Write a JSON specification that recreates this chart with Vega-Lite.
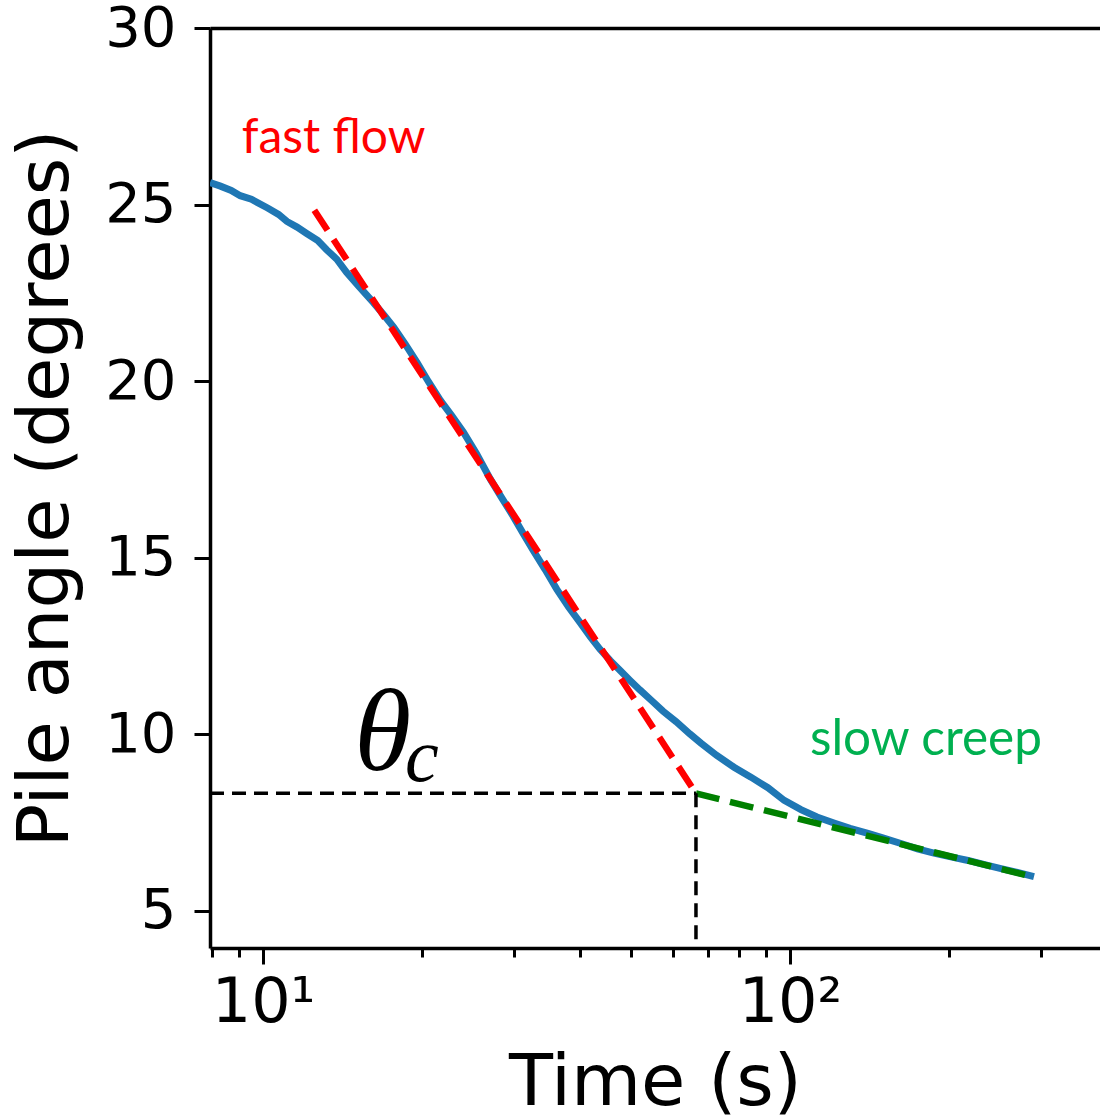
{
  "$schema": "https://vega.github.io/schema/vega-lite/v6.json",
  "width": 890,
  "height": 920,
  "autosize": {"type": "none"},
  "padding": {"left": 210, "top": 28, "right": 0, "bottom": 171},
  "background": "white",
  "config": {
    "view": {"stroke": null},
    "axis": {
      "grid": false,
      "domainColor": "black",
      "domainWidth": 3.5,
      "tickColor": "black",
      "tickWidth": 3,
      "labelColor": "black",
      "titleColor": "black",
      "labelFont": "DejaVu Sans",
      "titleFont": "DejaVu Sans",
      "titleFontWeight": "normal"
    }
  },
  "datasets": {
    "curve": [
      {"t": 7.93, "v": 25.62}, {"t": 8.3, "v": 25.52}, {"t": 8.7, "v": 25.4}, {"t": 9.05, "v": 25.25},
      {"t": 9.5, "v": 25.15}, {"t": 10.2, "v": 24.9}, {"t": 10.7, "v": 24.72}, {"t": 11.1, "v": 24.52},
      {"t": 11.6, "v": 24.36}, {"t": 12.1, "v": 24.18}, {"t": 12.7, "v": 23.98}, {"t": 13.2, "v": 23.72},
      {"t": 13.8, "v": 23.45}, {"t": 14.4, "v": 23.08}, {"t": 15.2, "v": 22.68}, {"t": 16.2, "v": 22.22},
      {"t": 17.0, "v": 21.85}, {"t": 17.7, "v": 21.52}, {"t": 18.6, "v": 21.05}, {"t": 19.6, "v": 20.52},
      {"t": 20.6, "v": 19.98}, {"t": 21.7, "v": 19.45}, {"t": 22.8, "v": 19.02}, {"t": 24.0, "v": 18.55},
      {"t": 25.4, "v": 17.95}, {"t": 27.0, "v": 17.22}, {"t": 28.3, "v": 16.72}, {"t": 29.8, "v": 16.18},
      {"t": 31.1, "v": 15.7}, {"t": 32.5, "v": 15.22}, {"t": 34.3, "v": 14.66}, {"t": 36.1, "v": 14.1},
      {"t": 38.0, "v": 13.6}, {"t": 40.0, "v": 13.15}, {"t": 41.8, "v": 12.75}, {"t": 43.6, "v": 12.4},
      {"t": 45.6, "v": 12.08}, {"t": 47.6, "v": 11.8}, {"t": 49.7, "v": 11.52}, {"t": 51.9, "v": 11.25},
      {"t": 54.6, "v": 10.95}, {"t": 57.4, "v": 10.65}, {"t": 60.8, "v": 10.35}, {"t": 64.6, "v": 10.0},
      {"t": 67.8, "v": 9.74}, {"t": 72.5, "v": 9.4}, {"t": 78.3, "v": 9.06}, {"t": 84.3, "v": 8.78},
      {"t": 90.8, "v": 8.48}, {"t": 97.5, "v": 8.12}, {"t": 104.9, "v": 7.86}, {"t": 112.5, "v": 7.65},
      {"t": 121.2, "v": 7.48}, {"t": 130.0, "v": 7.33}, {"t": 140.6, "v": 7.19}, {"t": 150.5, "v": 7.05},
      {"t": 162.4, "v": 6.9}, {"t": 174.5, "v": 6.75}, {"t": 187.6, "v": 6.63}, {"t": 202.0, "v": 6.52},
      {"t": 217.7, "v": 6.42}, {"t": 234.0, "v": 6.3}, {"t": 251.4, "v": 6.19}, {"t": 270.0, "v": 6.08},
      {"t": 290.4, "v": 5.96}
    ],
    "fast": [{"t": 12.51, "v": 24.84}, {"t": 66.3, "v": 8.32}],
    "slow": [{"t": 66.3, "v": 8.32}, {"t": 290.4, "v": 5.95}],
    "guides": [
      {"seg": "h", "t": 7.93, "v": 8.32}, {"seg": "h", "t": 66.3, "v": 8.32},
      {"seg": "v", "t": 66.3, "v": 8.32}, {"seg": "v", "t": 66.3, "v": 3.94}
    ],
    "one": [{"n": 1}]
  },
  "layer": [
    {
      "data": {"name": "curve"},
      "mark": {"type": "line", "color": "#1f77b4", "strokeWidth": 7, "clip": true},
      "encoding": {
        "x": {"field": "t", "type": "quantitative",
              "scale": {"type": "log", "domain": [7.93, 387.5], "nice": false},
              "axis": {"orient": "bottom", "values": [10, 100], "labelExpr": "datum.value == 10 ? '10¹' : '10²'",
                       "tickSize": 16, "labelFont": "DejaVu Sans", "labelFontSize": 62, "labelPadding": 8, "labelFlush": false, "labelOverlap": false,
                       "labelLimit": 400,
                       "title": "Time (s)", "titleFontSize": 72, "titlePadding": 14}},
        "y": {"field": "v", "type": "quantitative",
              "scale": {"domain": [3.94, 30], "nice": false, "zero": false},
              "axis": {"values": [5, 10, 15, 20, 25, 30], "tickSize": 16, "labelFontSize": 56, "labelPadding": 18,
                       "labelFlush": false, "labelOverlap": false,
                       "title": "Pile angle (degrees)", "titleFontSize": 72, "titlePadding": 22}}
      }
    },
    {
      "data": {"name": "fast"},
      "mark": {"type": "line", "color": "#ff0000", "strokeWidth": 6.5, "strokeDash": [24, 11]},
      "encoding": {
        "x": {"field": "t", "type": "quantitative",
              "scale": {"type": "log", "domain": [7.93, 387.5], "nice": false},
              "axis": {"orient": "bottom", "values": [8, 9, 20, 30, 40, 50, 60, 70, 80, 90, 200, 300],
                       "tickSize": 9, "labels": false, "domain": false, "title": null}},
        "y": {"field": "v", "type": "quantitative", "scale": {"domain": [3.94, 30], "nice": false, "zero": false}, "axis": null}
      }
    },
    {
      "data": {"name": "slow"},
      "mark": {"type": "line", "color": "#008000", "strokeWidth": 6.5, "strokeDash": [24, 11]},
      "encoding": {
        "x": {"field": "t", "type": "quantitative",
              "scale": {"type": "log", "domain": [7.93, 387.5], "nice": false},
              "axis": {"orient": "top", "ticks": false, "labels": false, "title": null, "domain": true}},
        "y": {"field": "v", "type": "quantitative", "scale": {"domain": [3.94, 30], "nice": false, "zero": false}, "axis": null}
      }
    },
    {
      "data": {"name": "guides"},
      "mark": {"type": "line", "color": "black", "strokeWidth": 3.5, "strokeDash": [14, 8]},
      "encoding": {
        "x": {"field": "t", "type": "quantitative", "scale": {"type": "log", "domain": [7.93, 387.5], "nice": false}, "axis": null},
        "y": {"field": "v", "type": "quantitative", "scale": {"domain": [3.94, 30], "nice": false, "zero": false}, "axis": null},
        "detail": {"field": "seg", "type": "nominal"}
      }
    },
    {
      "data": {"name": "one"},
      "mark": {"type": "text", "text": "fast flow", "color": "#ff0000", "font": "Lato", "fontSize": 48, "align": "left", "baseline": "alphabetic"},
      "encoding": {
        "x": {"datum": 9.11, "type": "quantitative", "scale": {"type": "log", "domain": [7.93, 387.5], "nice": false}, "axis": null},
        "y": {"datum": 26.46, "type": "quantitative", "scale": {"domain": [3.94, 30], "nice": false, "zero": false}, "axis": null}
      }
    },
    {
      "data": {"name": "one"},
      "mark": {"type": "text", "text": "slow creep", "color": "#00b050", "font": "Lato", "fontSize": 49.5, "align": "left", "baseline": "alphabetic"},
      "encoding": {
        "x": {"datum": 109.1, "type": "quantitative", "scale": {"type": "log", "domain": [7.93, 387.5], "nice": false}, "axis": null},
        "y": {"datum": 9.41, "type": "quantitative", "scale": {"domain": [3.94, 30], "nice": false, "zero": false}, "axis": null}
      }
    },
    {
      "data": {"name": "one"},
      "mark": {"type": "text", "text": "θ", "color": "black", "font": "Liberation Serif", "fontStyle": "italic", "fontSize": 116, "align": "left", "baseline": "alphabetic"},
      "encoding": {
        "x": {"datum": 14.9, "type": "quantitative", "scale": {"type": "log", "domain": [7.93, 387.5], "nice": false}, "axis": null},
        "y": {"datum": 8.98, "type": "quantitative", "scale": {"domain": [3.94, 30], "nice": false, "zero": false}, "axis": null}
      }
    },
    {
      "data": {"name": "one"},
      "mark": {"type": "text", "text": "c", "color": "black", "font": "Liberation Serif", "fontStyle": "italic", "fontSize": 76, "align": "left", "baseline": "alphabetic"},
      "encoding": {
        "x": {"datum": 18.6, "type": "quantitative", "scale": {"type": "log", "domain": [7.93, 387.5], "nice": false}, "axis": null},
        "y": {"datum": 8.67, "type": "quantitative", "scale": {"domain": [3.94, 30], "nice": false, "zero": false}, "axis": null}
      }
    }
  ],
  "resolve": {"axis": {"x": "independent", "y": "independent"}}
}
